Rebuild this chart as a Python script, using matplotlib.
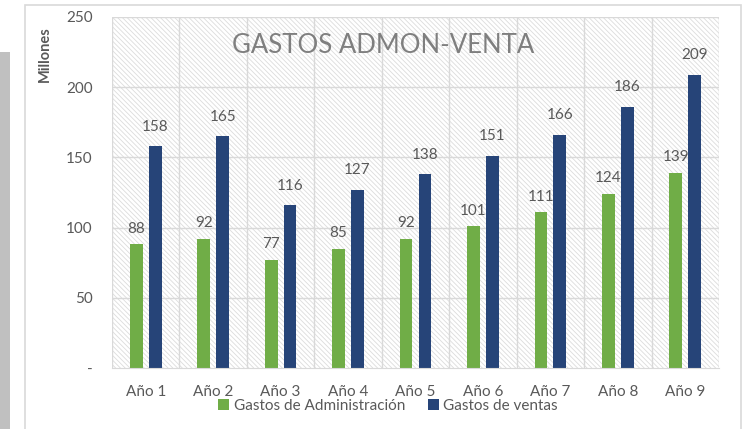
import matplotlib.pyplot as plt
import matplotlib.patches as mpatches
import numpy as np

years = ['Año 1', 'Año 2', 'Año 3', 'Año 4', 'Año 5', 'Año 6', 'Año 7', 'Año 8', 'Año 9']
admin = [88, 92, 77, 85, 92, 101, 111, 124, 139]
ventas = [158, 165, 116, 127, 138, 151, 166, 186, 209]
yticks = [0, 50, 100, 150, 200, 250]
ytick_labels = ['-', '50', '100', '150', '200', '250']

green = '#70ad47'
blue = '#264478'
txt = '#595959'
grid = '#d9d9d9'

plt.rcParams['font.family'] = ['Lato', 'DejaVu Sans']
plt.rcParams['hatch.linewidth'] = 0.6

fig = plt.figure(figsize=(7.45, 4.29), dpi=100)

# outer frame and grey strip on the left
fig.add_artist(mpatches.Rectangle((0, 0), 10/745, 1 - 52/429, transform=fig.transFigure,
                                  facecolor='#c0c0c0', edgecolor='none'))
fig.add_artist(mpatches.Rectangle((25/745, -0.01), (741-25)/745, 1.01 - 5/429, transform=fig.transFigure,
                                  facecolor='none', edgecolor='#d9d9d9', linewidth=1.2))

ax = fig.add_axes([112/745, 1 - 368/429, (719-112)/745, (368-17)/429])
x = np.arange(len(years))
ax.set_xlim(-0.5, len(years) - 0.5)
ax.set_ylim(0, 250)

# hatched background
ax.add_patch(mpatches.Rectangle((-0.5, 0), len(years), 250, facecolor='white',
                                edgecolor='#dcdcdc', hatch='\\' * 7, linewidth=0, zorder=0))
for b in np.arange(-0.5, len(years) + 0.5, 1):
    ax.axvline(b, color=grid, lw=1, zorder=1)
for t in yticks[1:]:
    ax.axhline(t, color=grid, lw=1, zorder=1)

w = 0.19
off = 0.14
b1 = ax.bar(x - off, admin, w, color=green, zorder=3, label='Gastos de Administración')
b2 = ax.bar(x + off, ventas, w, color=blue, zorder=3, label='Gastos de ventas')

for xi, v in zip(x, admin):
    ax.text(xi - off, v + 6, str(v), ha='center', va='bottom', fontsize=11, color=txt, zorder=4)
for xi, v in zip(x, ventas):
    ax.text(xi + off, v + 9, str(v), ha='center', va='bottom', fontsize=11, color=txt, zorder=4)

for s in ['top', 'right', 'left']:
    ax.spines[s].set_visible(False)
ax.spines['bottom'].set_color(grid)
ax.spines['bottom'].set_zorder(5)

ax.set_xticks(x)
ax.set_xticklabels(years, fontsize=11, color=txt)
ax.set_yticks(yticks)
ax.set_yticklabels(ytick_labels, fontsize=11, color=txt)
ax.tick_params(length=0)
ax.tick_params(axis='x', pad=12)
ax.tick_params(axis='y', pad=14)

fig.text(45/745, 1 - 54/429, 'Millones', rotation=90, ha='center', va='center',
         fontsize=10.5, fontweight='bold', color=txt)

ax.text(3.52, 230, 'GASTOS ADMON-VENTA', ha='center', va='center', fontsize=18.5, color='#7f7f7f', zorder=4)

fig.legend(handles=[b1, b2], loc='center', bbox_to_anchor=(388/745, 1 - 406/429), ncol=2,
           frameon=False, fontsize=11, handlelength=0.7, handleheight=0.7, handletextpad=0.3,
           columnspacing=1.5, labelcolor=txt)

fig.savefig('out.png', dpi=100)
